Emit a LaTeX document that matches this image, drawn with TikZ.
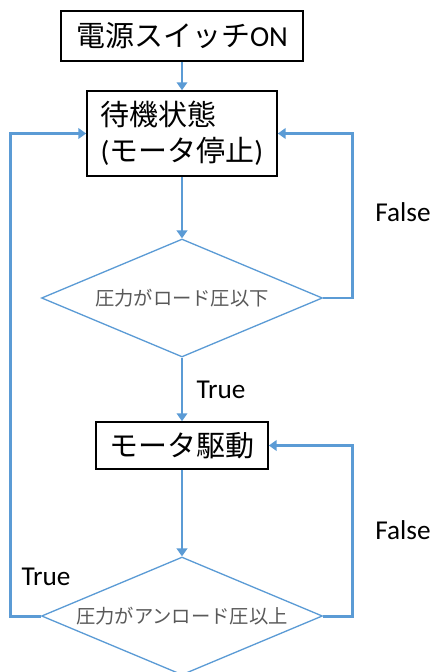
\documentclass[tikz,border=0pt]{standalone}
\usepackage{fontspec}
\setmainfont{Carlito}
\newfontfamily\jp{Noto Sans CJK JP}
\usepackage{tikz}
\usetikzlibrary{shapes.geometric, arrows.meta}
\definecolor{flowblue}{HTML}{5B9BD5}
\definecolor{condgray}{HTML}{595959}
\tikzset{
  state/.style={rectangle, draw=black, line width=0.9pt, fill=white, inner sep=0pt,
    font=\fontsize{16.5}{20.5}\selectfont\jp},
  cond/.style={diamond, draw=flowblue, line width=0.75pt, inner sep=0pt, aspect=2.38,
    minimum width=5.62cm, minimum height=2.36cm, text=condgray,
    font=\fontsize{11}{13}\selectfont\jp},
  flow/.style={draw=flowblue, line width=1.7pt, -{Triangle[width=6pt,length=4.5pt]}},
  lbl/.style={font=\fontsize{15.5}{18}\selectfont}
}

\begin{document}
\begin{tikzpicture}[x=0.02cm, y=-0.02cm]
        \useasboundingbox (0,0) rectangle (438,672);

        % Nodes
        \node[state, minimum width=4.84cm, minimum height=1.0cm] (power) at (182, 36) {電源スイッチ{\rmfamily ON}};
        \node[state, minimum width=3.8cm, minimum height=1.7cm, align=left] (wait) at (182, 133.5) {待機状態\\{\rmfamily(}モータ停止{\rmfamily)}};
        \node[cond] (chkload) at (182, 298) {圧力がロード圧以下};
        \node[state, minimum width=3.44cm, minimum height=0.94cm] (drive) at (182, 445.5) {モータ駆動};
        \node[cond] (chkunload) at (182, 616) {圧力がアンロード圧以上};

        % Labels
        \node[lbl] (false1) at (403, 212) {False};
        \node[lbl] (true1) at (221, 390) {True};
        \node[lbl] (false2) at (403, 530) {False};
        \node[lbl] (true2) at (46, 577) {True};

        % Lines
        \draw[flow] (power) -- (wait);
        \draw[flow] (wait) -- (chkload);
        \draw[flow] (chkload) -- (drive);
        \draw[flow] (drive) -- (chkunload);
        \draw[flow] (chkload.east) -- ++(29,0) |- (wait.east);
        \draw[flow] (chkunload.east) -- ++(29,0) |- (drive.east);
        \draw[flow] (chkunload.west) -- ++(-30,0) |- (wait.west);
    \end{tikzpicture}
\end{document}
